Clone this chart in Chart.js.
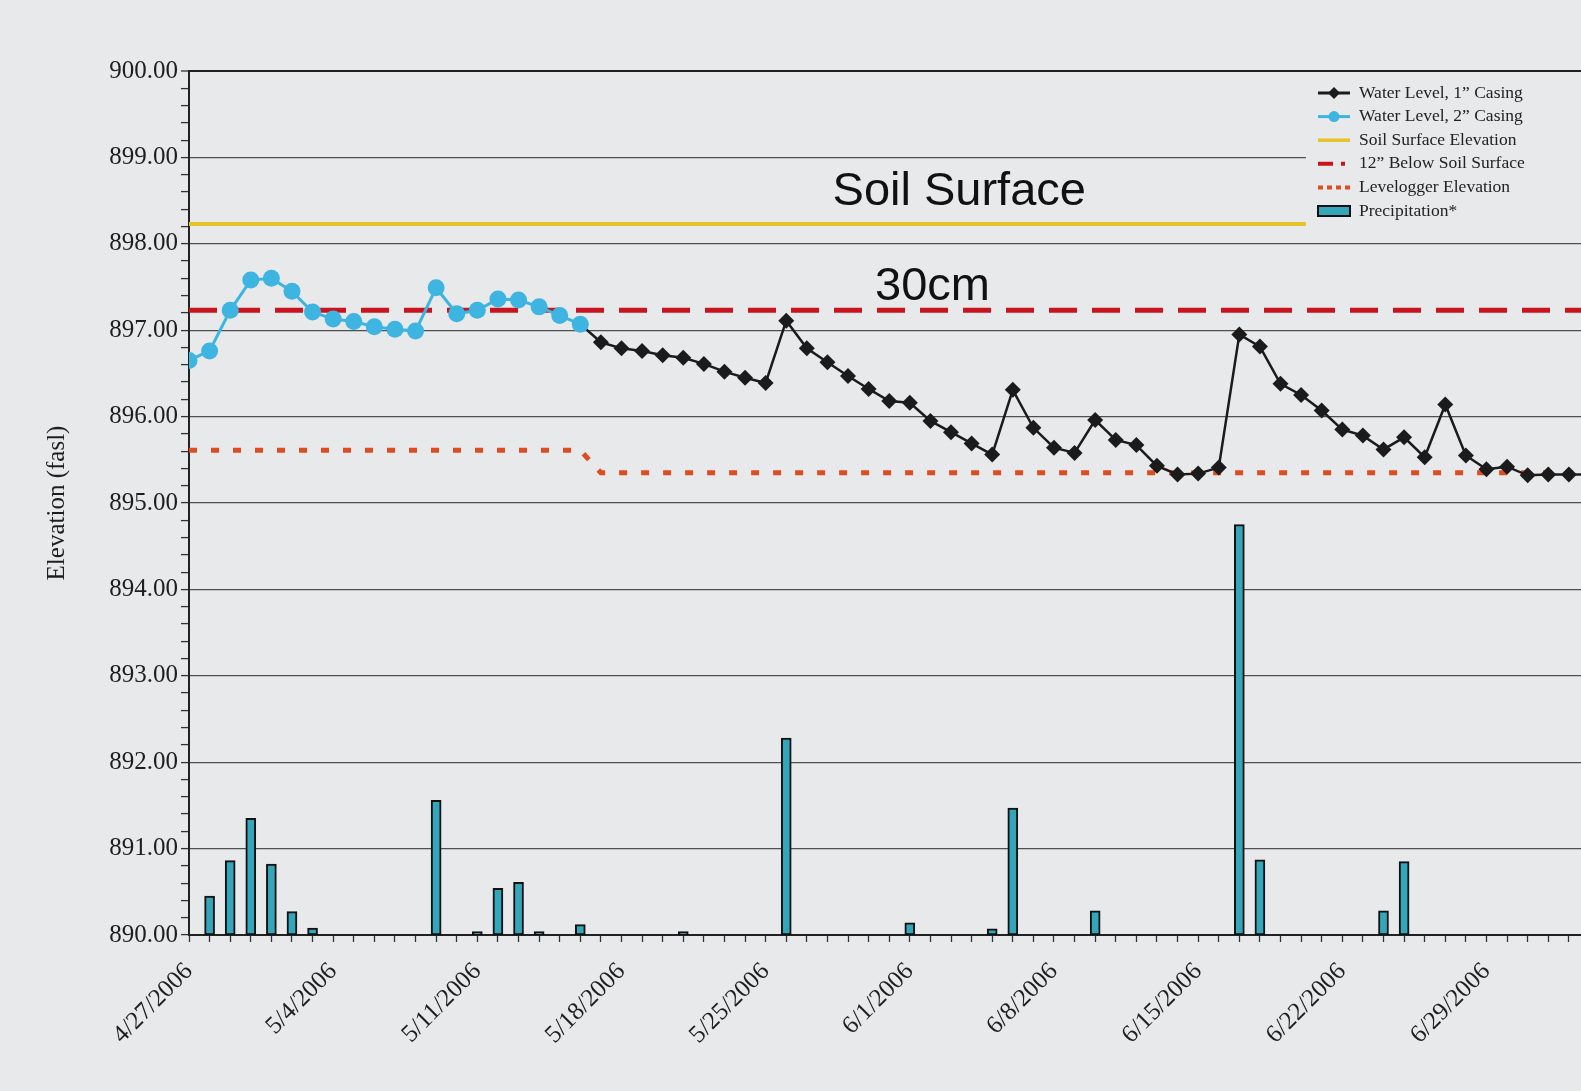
<!DOCTYPE html>
<html>
<head>
<meta charset="utf-8">
<script src="https://cdn.jsdelivr.net/npm/chart.js@4.4.1/dist/chart.umd.min.js"></script>
<style>
  html, body { margin: 0; padding: 0; background: #e8e9eb; overflow: hidden; }
  #contenedor { width: 1581px; height: 1091px; overflow: hidden; }
</style>
</head>
<body>
<div id="contenedor"><canvas id="graficoNivel" width="1600" height="1091"></canvas></div>
<script>
// day 0 = 4/27/2006, one label every 7 days
const weekLabels = ['4/27/2006', '5/4/2006', '5/11/2006', '5/18/2006', '5/25/2006',
                    '6/1/2006', '6/8/2006', '6/15/2006', '6/22/2006', '6/29/2006'];

// Water level, 2" casing (days 0..19)
const casing2Start = 0;
const casing2Level = [896.65, 896.76, 897.23, 897.58, 897.60, 897.45, 897.21, 897.13, 897.10, 897.04,
                      897.01, 896.99, 897.49, 897.19, 897.23, 897.36, 897.35, 897.27, 897.17, 897.07];

// Water level, 1" casing (days 19..68)
const casing1Start = 19;
const casing1Level = [897.07, 896.86, 896.79, 896.76, 896.71, 896.68, 896.61, 896.52, 896.45, 896.39,
                      897.11, 896.79, 896.63, 896.47, 896.32, 896.18, 896.16, 895.95, 895.82, 895.69,
                      895.56, 896.31, 895.87, 895.64, 895.58, 895.96, 895.73, 895.67, 895.43, 895.33,
                      895.34, 895.41, 896.95, 896.81, 896.38, 896.25, 896.07, 895.85, 895.78, 895.62,
                      895.76, 895.53, 896.14, 895.55, 895.39, 895.42, 895.32, 895.33, 895.33, 895.33];

const soilSurface = 898.23;
const below12 = 897.23;

const loggerDays = [0, 19, 20, 70];
const loggerElev = [895.61, 895.61, 895.35, 895.35];

// Precipitation (drawn on hidden 0..10 axis sharing the 890..900 span)
const precipDays = [1, 2, 3, 4, 5, 6, 12, 14, 15, 16, 17, 19, 24, 29, 35, 39, 40, 44, 51, 52, 58, 59];
const precipValues = [0.45, 0.86, 1.35, 0.82, 0.27, 0.08, 1.56, 0.04, 0.54, 0.61, 0.04, 0.12, 0.04,
                      2.28, 0.14, 0.07, 1.47, 0.28, 4.75, 0.87, 0.28, 0.85];

const lastDay = 70;
const bgColor = '#e8e9eb';
const serif = '"Liberation Serif", "Times New Roman", serif';
const colBlue = '#3eb5e0';
const colBlack = '#1b1b1b';
const colYellow = '#e6c22c';
const colRed = '#c8141e';
const colOrange = '#dc4e22';
const colTeal = '#33a6ba';

const isWhole = v => Math.abs(v - Math.round(v)) < 1e-6;

const fondoPlugin = {
    id: 'fondo',
    beforeDraw(chart) {
        const c = chart.ctx;
        c.save();
        c.fillStyle = bgColor;
        c.fillRect(0, 0, chart.width, chart.height);
        c.restore();
    }
};

function drawSeg(c, x, y, color, width, dash) {
    c.save();
    c.strokeStyle = color;
    c.lineWidth = width;
    c.setLineDash(dash || []);
    c.beginPath();
    c.moveTo(x, y);
    c.lineTo(x + 32, y);
    c.stroke();
    c.restore();
}

const leyendaPlugin = {
    id: 'leyenda',
    afterDatasetsDraw(chart) {
        const c = chart.ctx;
        const area = chart.chartArea;
        const left = 1306;
        c.save();
        c.fillStyle = bgColor;
        c.fillRect(left, area.top + 4, chart.width - left, 156);

        const items = [
            { text: 'Water Level, 1\u201D Casing', draw: (x, y) => {
                drawSeg(c, x, y, colBlack, 3);
                c.fillStyle = colBlack;
                c.beginPath();
                c.moveTo(x + 16, y - 6); c.lineTo(x + 22, y); c.lineTo(x + 16, y + 6); c.lineTo(x + 10, y);
                c.closePath(); c.fill();
            } },
            { text: 'Water Level, 2\u201D Casing', draw: (x, y) => {
                drawSeg(c, x, y, colBlue, 3);
                c.fillStyle = colBlue;
                c.beginPath(); c.arc(x + 16, y, 5.5, 0, Math.PI * 2); c.fill();
            } },
            { text: 'Soil Surface Elevation', draw: (x, y) => drawSeg(c, x, y, colYellow, 3.5) },
            { text: '12\u201D Below Soil Surface', draw: (x, y) => drawSeg(c, x, y, colRed, 4, [15, 8, 4, 100]) },
            { text: 'Levelogger Elevation', draw: (x, y) => drawSeg(c, x, y, colOrange, 4, [5, 4]) },
            { text: 'Precipitation*', draw: (x, y) => {
                c.fillStyle = colTeal;
                c.fillRect(x, y - 5, 32, 10);
                c.strokeStyle = '#111';
                c.lineWidth = 2;
                c.strokeRect(x, y - 5, 32, 10);
            } }
        ];

        c.font = '17.5px ' + serif;
        c.textBaseline = 'middle';
        items.forEach((it, i) => {
            const y = 93 + i * 23.6;
            it.draw(1318, y);
            c.fillStyle = '#222';
            c.fillText(it.text, 1359, y);
        });
        c.restore();
    }
};

const notasPlugin = {
    id: 'notas',
    afterDatasetsDraw(chart) {
        const c = chart.ctx;
        const sx = chart.scales.x;
        const sy = chart.scales.y;
        c.save();
        c.fillStyle = '#111';
        c.font = '47px "Liberation Sans", Arial, sans-serif';
        c.textAlign = 'center';
        c.textBaseline = 'alphabetic';
        c.fillText('Soil Surface', sx.getPixelForValue(37.4), sy.getPixelForValue(898.45));
        c.fillText('30cm', sx.getPixelForValue(36.1), sy.getPixelForValue(897.35));
        c.restore();
    }
};

new Chart(document.getElementById('graficoNivel').getContext('2d'), {
    type: 'line',
    data: {
        datasets: [
            {
                label: 'Water Level, 2" Casing',
                data: casing2Level.map((v, i) => ({ x: casing2Start + i, y: v })),
                borderColor: colBlue,
                backgroundColor: colBlue,
                borderWidth: 3,
                pointRadius: 8.5,
                pointStyle: 'circle',
                pointBorderWidth: 0,
                order: 0
            },
            {
                label: 'Water Level, 1" Casing',
                data: casing1Level.map((v, i) => ({ x: casing1Start + i, y: v })),
                borderColor: colBlack,
                backgroundColor: colBlack,
                borderWidth: 2.5,
                pointRadius: 8,
                pointStyle: 'rectRot',
                pointBorderWidth: 0,
                order: 1
            },
            {
                label: 'Soil Surface Elevation',
                data: [{ x: 0, y: soilSurface }, { x: lastDay, y: soilSurface }],
                borderColor: colYellow,
                borderWidth: 4,
                pointRadius: 0,
                order: 2
            },
            {
                label: '12" Below Soil Surface',
                data: [{ x: 0, y: below12 }, { x: lastDay, y: below12 }],
                borderColor: colRed,
                borderWidth: 5,
                borderDash: [28, 15],
                pointRadius: 0,
                order: 3
            },
            {
                label: 'Levelogger Elevation',
                data: loggerDays.map((d, i) => ({ x: d, y: loggerElev[i] })),
                borderColor: colOrange,
                borderWidth: 5,
                borderDash: [8, 14],
                pointRadius: 0,
                order: 4
            },
            {
                type: 'bar',
                label: 'Precipitation*',
                data: precipDays.map((d, i) => ({ x: d, y: precipValues[i] })),
                yAxisID: 'yP',
                backgroundColor: colTeal,
                borderColor: '#111',
                borderWidth: 2,
                borderSkipped: false,
                barThickness: 10,
                order: 5
            }
        ]
    },
    options: {
        responsive: false,
        animation: false,
        layout: { padding: { left: 35, top: 71, right: 0, bottom: 0 } },
        plugins: {
            legend: { display: false },
            tooltip: { enabled: false }
        },
        scales: {
            x: {
                type: 'linear',
                min: 0,
                max: 68.1,
                offset: false,
                afterBuildTicks: scale => {
                    scale.ticks = [];
                    for (let d = 0; d <= 68; d++) scale.ticks.push({ value: d });
                },
                afterFit: scale => {
                    scale.height = 156;
                    scale.paddingRight = 0;
                    scale.paddingLeft = 0;
                },
                ticks: {
                    autoSkip: false,
                    maxRotation: 45,
                    minRotation: 45,
                    padding: 15,
                    color: '#1e1e1e',
                    font: { family: serif, size: 25 },
                    callback: v => (v % 7 === 0 && weekLabels[v / 7]) ? weekLabels[v / 7] : ''
                },
                grid: {
                    offset: false,
                    color: 'rgba(0,0,0,0)',
                    tickColor: '#333',
                    tickLength: 7,
                    tickWidth: 1.3
                },
                border: { color: '#222', width: 2 }
            },
            y: {
                min: 890,
                max: 900,
                afterBuildTicks: scale => {
                    scale.ticks = [];
                    for (let i = 0; i <= 50; i++) scale.ticks.push({ value: Math.round((890 + i * 0.2) * 10) / 10 });
                },
                afterFit: scale => { scale.width = 154; },
                ticks: {
                    autoSkip: false,
                    padding: 3,
                    color: '#1e1e1e',
                    font: { family: serif, size: 25 },
                    callback: v => isWhole(v) ? v.toFixed(2) : ''
                },
                grid: {
                    color: c => isWhole(c.tick.value) ? (c.tick.value === 900 ? '#222' : '#505050') : 'rgba(0,0,0,0)',
                    lineWidth: c => c.tick.value === 900 ? 2 : 1.2,
                    tickColor: '#333',
                    tickLength: 8,
                    tickWidth: 1.3
                },
                border: { color: '#222', width: 2 },
                title: {
                    display: true,
                    text: 'Elevation (fasl)',
                    color: '#1e1e1e',
                    font: { family: serif, size: 25 },
                    padding: { top: 7.5, bottom: 0 }
                }
            },
            yP: {
                display: false,
                min: 0,
                max: 10
            }
        }
    },
    plugins: [fondoPlugin, leyendaPlugin, notasPlugin]
});
</script>
</body>
</html>
